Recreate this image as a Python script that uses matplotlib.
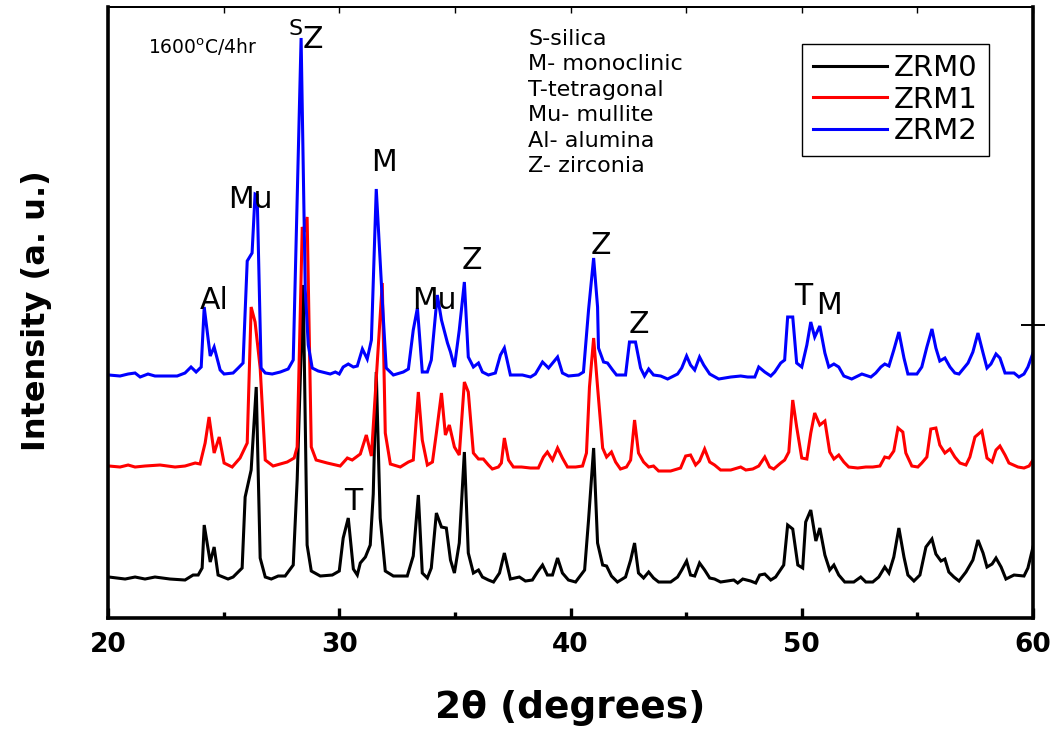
import matplotlib
matplotlib.use("Agg")
import matplotlib.pyplot as plt

plt.rcParams["font.family"] = ["DejaVu Sans"]
plt.rcParams["mathtext.default"] = "regular"

# ---------------------------------------------------------------- data
# XRD patterns (2-theta in degrees, intensity in arbitrary units above baseline)
two_theta_zrm0 = [20.04, 20.74, 21.17, 21.60, 22.03, 22.68, 23.33, 23.68, 23.90, 24.07,
                  24.16, 24.42, 24.59, 24.76, 25.19, 25.41, 25.80, 25.93, 26.19, 26.41,
                  26.58, 26.80, 27.06, 27.36, 27.66, 28.01, 28.18, 28.44, 28.61, 28.79,
                  29.18, 29.70, 30.00, 30.17, 30.39, 30.61, 30.78, 30.91, 31.13, 31.34,
                  31.47, 31.60, 31.77, 31.99, 32.34, 32.94, 33.20, 33.42, 33.59, 33.81,
                  33.98, 34.20, 34.42, 34.63, 34.81, 34.98, 35.19, 35.41, 35.58, 35.80,
                  36.02, 36.19, 36.45, 36.67, 36.93, 37.14, 37.40, 37.79, 38.05, 38.35,
                  38.57, 38.79, 39.00, 39.22, 39.44, 39.65, 39.91, 40.22, 40.61, 40.78,
                  41.00, 41.17, 41.39, 41.56, 41.77, 42.03, 42.38, 42.60, 42.77, 42.94,
                  43.16, 43.38, 43.59, 43.81, 44.33, 44.63, 44.81, 45.02, 45.19, 45.37,
                  45.58, 45.80, 46.02, 46.23, 46.49, 47.06, 47.23, 47.45, 47.79, 48.01,
                  48.18, 48.40, 48.66, 48.87, 49.22, 49.39, 49.61, 49.83, 50.04, 50.17,
                  50.39, 50.61, 50.78, 51.00, 51.21, 51.39, 51.60, 51.86, 52.25, 52.55,
                  52.77, 53.07, 53.33, 53.59, 53.77, 53.98, 54.20, 54.42, 54.59, 54.85,
                  55.11, 55.37, 55.63, 55.80, 56.02, 56.19, 56.36, 56.58, 56.80, 57.10,
                  57.40, 57.62, 57.84, 58.01, 58.23, 58.40, 58.62, 58.83, 59.18, 59.61,
                  59.78, 60.00]
intensity_zrm0 = [7, 5, 7, 5, 7, 5, 4, 9, 9, 16,
                  59, 22, 37, 9, 5, 7, 16, 87, 114, 197,
                  26, 7, 5, 8, 8, 19, 104, 299, 39, 13,
                  8, 9, 13, 46, 66, 15, 9, 21, 27, 39,
                  90, 212, 66, 13, 8, 8, 28, 89, 11, 6,
                  16, 71, 57, 56, 24, 11, 41, 132, 31, 11,
                  14, 7, 4, 2, 11, 31, 5, 7, 3, 4,
                  12, 19, 9, 9, 26, 11, 4, 2, 14, 64,
                  136, 41, 19, 18, 8, 2, 7, 24, 41, 11,
                  6, 12, 6, 2, 2, 7, 14, 23, 9, 8,
                  21, 14, 6, 5, 2, 4, 1, 5, 3, 1,
                  9, 10, 4, 7, 19, 59, 55, 19, 16, 62,
                  74, 43, 56, 29, 14, 19, 9, 2, 2, 7,
                  2, 2, 7, 17, 11, 27, 56, 27, 9, 3,
                  9, 37, 45, 30, 23, 25, 12, 7, 3, 12,
                  24, 44, 31, 17, 20, 26, 17, 5, 9, 8,
                  16, 37]

two_theta_zrm1 = [20.04, 20.52, 20.87, 21.17, 21.60, 22.25, 22.90, 23.33, 23.77, 23.98,
                  24.20, 24.37, 24.59, 24.81, 25.02, 25.37, 25.71, 26.02, 26.19, 26.36,
                  26.58, 26.80, 27.14, 27.75, 28.05, 28.18, 28.40, 28.48, 28.61, 28.79,
                  29.00, 29.48, 30.04, 30.35, 30.56, 30.91, 31.17, 31.39, 31.86, 31.99,
                  32.21, 32.64, 32.99, 33.20, 33.42, 33.59, 33.81, 34.03, 34.20, 34.42,
                  34.59, 34.76, 34.98, 35.19, 35.41, 35.58, 35.80, 36.02, 36.23, 36.45,
                  36.62, 36.88, 37.01, 37.14, 37.32, 37.53, 37.88, 38.27, 38.61, 38.83,
                  39.00, 39.22, 39.44, 39.65, 39.87, 40.22, 40.52, 40.69, 40.82, 41.00,
                  41.17, 41.39, 41.56, 41.77, 41.95, 42.16, 42.42, 42.60, 42.77, 42.94,
                  43.16, 43.38, 43.59, 43.81, 44.33, 44.76, 44.98, 45.19, 45.41, 45.58,
                  45.80, 46.02, 46.23, 46.49, 46.93, 47.36, 47.58, 47.88, 48.14, 48.40,
                  48.61, 48.79, 49.09, 49.26, 49.44, 49.61, 49.78, 50.00, 50.22, 50.39,
                  50.56, 50.78, 51.00, 51.21, 51.39, 51.60, 51.82, 52.03, 52.42, 52.77,
                  53.07, 53.38, 53.59, 53.77, 53.98, 54.16, 54.37, 54.50, 54.76, 55.02,
                  55.19, 55.41, 55.58, 55.80, 55.97, 56.19, 56.41, 56.62, 56.84, 57.10,
                  57.27, 57.49, 57.79, 58.01, 58.23, 58.40, 58.57, 58.79, 58.96, 59.35,
                  59.61, 59.83, 60.00]
intensity_zrm1 = [6, 5, 7, 5, 6, 7, 5, 6, 9, 8,
                  29, 55, 19, 35, 9, 5, 14, 29, 165, 150,
                  104, 12, 6, 10, 14, 25, 245, 240, 255, 25,
                  12, 9, 6, 14, 12, 18, 37, 16, 189, 39,
                  8, 5, 10, 12, 80, 32, 7, 10, 39, 79,
                  37, 47, 25, 17, 90, 80, 19, 13, 13, 7,
                  3, 5, 9, 34, 12, 5, 5, 4, 4, 15,
                  20, 12, 24, 14, 5, 5, 6, 19, 85, 134,
                  85, 24, 15, 20, 10, 3, 5, 12, 52, 19,
                  10, 5, 6, 1, 1, 4, 16, 17, 7, 11,
                  23, 10, 7, 2, 2, 5, 2, 3, 6, 15,
                  5, 3, 9, 12, 20, 72, 45, 14, 13, 39,
                  59, 47, 51, 20, 13, 17, 10, 5, 4, 5,
                  5, 6, 15, 14, 21, 44, 40, 19, 6, 5,
                  9, 15, 43, 44, 27, 19, 23, 15, 9, 7,
                  15, 35, 41, 14, 10, 22, 26, 17, 9, 5,
                  4, 6, 12]

two_theta_zrm2 = [20.04, 20.52, 20.87, 21.17, 21.39, 21.73, 22.03, 22.99, 23.33, 23.59,
                  23.81, 24.03, 24.16, 24.42, 24.59, 24.85, 25.02, 25.41, 25.63, 25.84,
                  26.02, 26.23, 26.36, 26.45, 26.62, 26.80, 27.10, 27.45, 27.79, 28.01,
                  28.35, 28.53, 28.66, 28.83, 29.09, 29.61, 29.83, 30.00, 30.17, 30.39,
                  30.61, 30.78, 31.00, 31.21, 31.39, 31.60, 31.86, 32.03, 32.34, 32.77,
                  32.99, 33.20, 33.38, 33.59, 33.81, 33.98, 34.24, 34.42, 34.68, 34.81,
                  34.98, 35.19, 35.41, 35.58, 35.80, 36.02, 36.19, 36.45, 36.75, 36.97,
                  37.14, 37.40, 37.92, 38.27, 38.48, 38.79, 39.05, 39.44, 39.65, 39.91,
                  40.35, 40.56, 40.78, 41.00, 41.17, 41.21, 41.43, 41.60, 41.82, 41.99,
                  42.38, 42.55, 42.81, 43.03, 43.20, 43.38, 43.59, 43.90, 44.20, 44.63,
                  44.81, 45.02, 45.19, 45.37, 45.58, 45.76, 46.02, 46.41, 46.93, 47.36,
                  47.66, 47.97, 48.14, 48.40, 48.66, 48.83, 49.09, 49.26, 49.39, 49.61,
                  49.78, 50.00, 50.22, 50.39, 50.56, 50.78, 51.00, 51.17, 51.39, 51.60,
                  51.82, 52.16, 52.34, 52.60, 52.99, 53.20, 53.42, 53.59, 53.77, 53.98,
                  54.20, 54.42, 54.59, 54.98, 55.19, 55.41, 55.63, 55.80, 55.97, 56.19,
                  56.41, 56.62, 56.80, 57.19, 57.40, 57.62, 57.84, 58.01, 58.18, 58.40,
                  58.57, 58.79, 59.18, 59.39, 59.61, 59.78, 60.00]
intensity_zrm2 = [5, 4, 6, 7, 3, 6, 4, 4, 7, 13,
                  8, 13, 73, 24, 33, 10, 6, 7, 12, 17,
                  119, 127, 186, 185, 12, 7, 6, 8, 11, 20,
                  342, 90, 35, 12, 9, 6, 8, 6, 13, 16,
                  13, 14, 31, 21, 40, 191, 80, 12, 5, 8,
                  11, 50, 72, 8, 8, 20, 85, 60, 37, 28,
                  13, 50, 98, 23, 13, 17, 8, 5, 7, 25,
                  32, 5, 5, 3, 6, 18, 12, 23, 7, 4,
                  5, 8, 70, 122, 73, 32, 18, 17, 10, 5,
                  5, 38, 38, 12, 4, 11, 5, 4, 1, 6,
                  12, 24, 15, 10, 23, 15, 6, 1, 3, 4,
                  3, 3, 13, 8, 4, 8, 17, 20, 63, 63,
                  17, 13, 35, 58, 43, 54, 27, 13, 16, 13,
                  4, 1, 3, 6, 3, 7, 13, 16, 14, 30,
                  48, 22, 6, 6, 13, 33, 51, 32, 19, 22,
                  13, 7, 6, 17, 28, 47, 27, 12, 16, 26,
                  22, 7, 7, 3, 6, 13, 27]

sample_names = ["ZRM0", "ZRM1", "ZRM2"]
stack_offsets = [34, 146, 238]     # vertical shift of each pattern (a.u.)

phase_key = ["S-silica", "M- monoclinic", "T-tetragonal",
             "Mu- mullite", "Al- alumina", "Z- zirconia"]

# peak labels: (text, 2-theta, height in stacked a.u.)
peak_labels = [("Al", 24.60, 318), ("Mu", 26.15, 419), ("S", 28.12, 589),
               ("Z", 28.85, 578), ("M", 31.95, 455), ("Mu", 34.10, 318),
               ("Z", 35.75, 358), ("T", 30.60, 117), ("Z", 41.30, 373),
               ("Z", 42.95, 294), ("T", 50.05, 322), ("M", 51.18, 313)]

x_ticks = [20, 30, 40, 50, 60]

# ---------------------------------------------------------------- figure
fig = plt.figure(figsize=(10.62, 7.36), dpi=100)
ax = fig.add_axes([0.1017, 0.1603, 0.8710, 0.8302])

colors = ["black", "#ff0000", "#0000ff"]
series = [(two_theta_zrm0, intensity_zrm0),
          (two_theta_zrm1, intensity_zrm1),
          (two_theta_zrm2, intensity_zrm2)]
for (tt, inten), off, name, col in zip(series, stack_offsets, sample_names, colors):
    ax.plot(tt, [v + off for v in inten], color=col, lw=2.2, label=name,
            solid_joinstyle="miter")

ax.set_xlim(20, 60)
ax.set_ylim(0, 611)

# spines
for side in ("left", "bottom", "right"):
    ax.spines[side].set_linewidth(2.6)
ax.spines["top"].set_linewidth(1.4)

# x ticks
ax.set_xticks(x_ticks)
ax.set_xticks([25, 35, 45, 55], minor=True)
ax.tick_params(axis="x", which="major", direction="in", length=7, width=2.4,
               pad=10, labelsize=19)
ax.tick_params(axis="x", which="minor", direction="in", length=4, width=2.4)
for lab in ax.get_xticklabels():
    lab.set_fontweight("bold")

top = ax.secondary_xaxis("top")
top.set_xticks(x_ticks + [25, 35, 45, 55])
top.tick_params(direction="in", length=4, width=1.0, labeltop=False)
top.spines["top"].set_linewidth(1.4)

# y axis: no labels, a single tick crossing the right spine
ax.set_yticks([293])
ax.tick_params(axis="y", left=False, right=True, labelleft=False,
               direction="inout", length=17, width=1.4)

# legend
leg = ax.legend(loc="upper right", bbox_to_anchor=(0.952, 0.940),
                borderaxespad=0, frameon=True, fancybox=False,
                edgecolor="black", framealpha=1, fontsize=21,
                handlelength=2.55, handletextpad=0.25, borderpad=0.36,
                labelspacing=0.12)
leg.get_frame().set_linewidth(1.0)

# annotations
ax.text(21.73, 571, "1600$^{o}$C/4hr", fontsize=13.5, ha="left", va="center")
key_y = [579, 554, 528, 503, 477, 452]
for txt, yy in zip(phase_key, key_y):
    ax.text(38.18, yy, txt, fontsize=16, ha="left", va="center")

for txt, tt, hh in peak_labels:
    fs = 16 if txt == "S" else 21.5
    ax.text(tt, hh, txt, fontsize=fs, ha="center", va="center")

# axis titles
fig.text(0.5367, 0.0380, "2\u03b8 (degrees)", fontsize=27, fontweight="bold",
         ha="center", va="center")
fig.text(0.034, 0.578, "Intensity (a. u.)", fontsize=23, fontweight="bold",
         rotation=90, ha="center", va="center")

fig.savefig("out.png", dpi=100)
